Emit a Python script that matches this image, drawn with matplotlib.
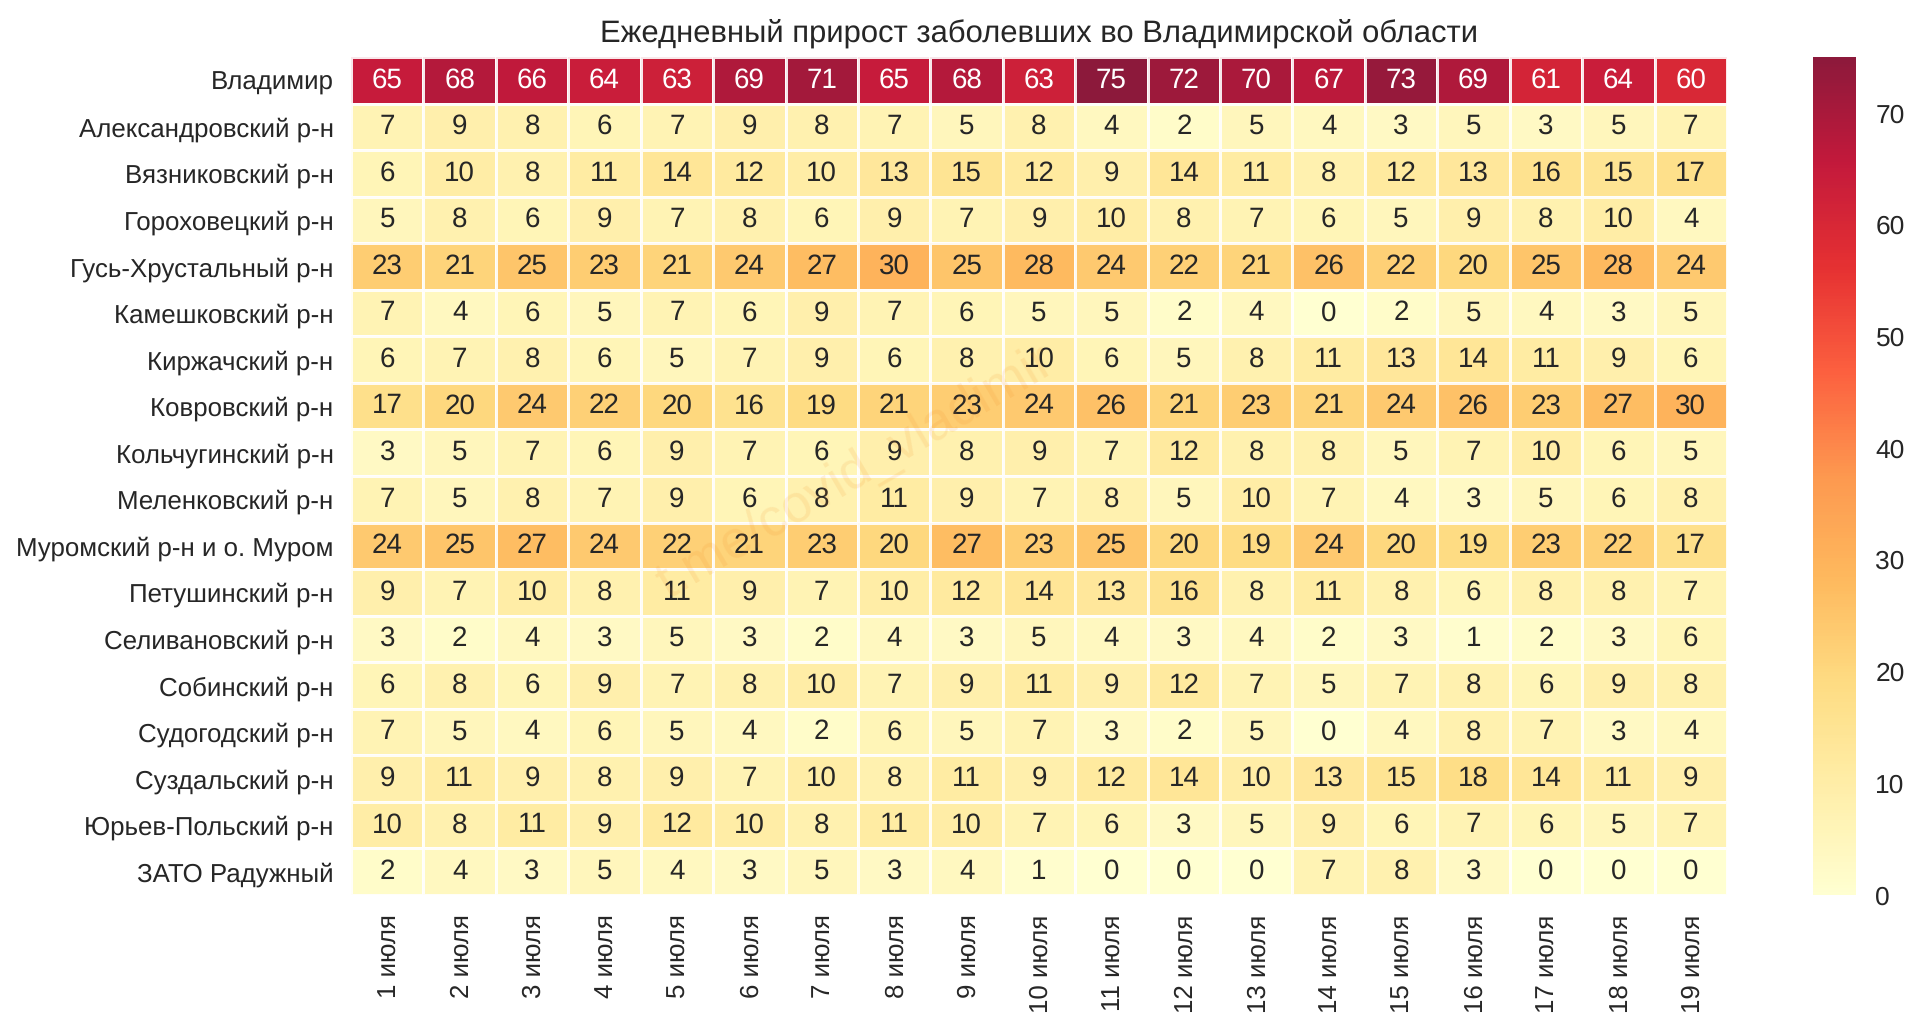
#!/usr/bin/env python3
# -*- coding: utf-8 -*-

import numpy as np
import matplotlib
matplotlib.use("Agg")
import matplotlib.pyplot as plt
from matplotlib.transforms import ScaledTranslation

plt.rcParams["font.family"] = ["Liberation Sans", "DejaVu Sans"]
plt.rcParams["text.hinting"] = "none"

TEXT_COLOR = "#262626"

days = ["1 июля", "2 июля", "3 июля", "4 июля", "5 июля", "6 июля", "7 июля",
        "8 июля", "9 июля", "10 июля", "11 июля", "12 июля", "13 июля",
        "14 июля", "15 июля", "16 июля", "17 июля", "18 июля", "19 июля"]

districts = ["Владимир", "Александровский р-н", "Вязниковский р-н",
             "Гороховецкий р-н", "Гусь-Хрустальный р-н", "Камешковский р-н",
             "Киржачский р-н", "Ковровский р-н", "Кольчугинский р-н",
             "Меленковский р-н", "Муромский р-н и о. Муром", "Петушинский р-н",
             "Селивановский р-н", "Собинский р-н", "Судогодский р-н",
             "Суздальский р-н", "Юрьев-Польский р-н", "ЗАТО Радужный"]

vladimir = [65, 68, 66, 64, 63, 69, 71, 65, 68, 63, 75, 72, 70, 67, 73, 69, 61, 64, 60]
aleksandrov = [7, 9, 8, 6, 7, 9, 8, 7, 5, 8, 4, 2, 5, 4, 3, 5, 3, 5, 7]
vyazniki = [6, 10, 8, 11, 14, 12, 10, 13, 15, 12, 9, 14, 11, 8, 12, 13, 16, 15, 17]
gorokhovets = [5, 8, 6, 9, 7, 8, 6, 9, 7, 9, 10, 8, 7, 6, 5, 9, 8, 10, 4]
gus = [23, 21, 25, 23, 21, 24, 27, 30, 25, 28, 24, 22, 21, 26, 22, 20, 25, 28, 24]
kameshkovo = [7, 4, 6, 5, 7, 6, 9, 7, 6, 5, 5, 2, 4, 0, 2, 5, 4, 3, 5]
kirzhach = [6, 7, 8, 6, 5, 7, 9, 6, 8, 10, 6, 5, 8, 11, 13, 14, 11, 9, 6]
kovrov = [17, 20, 24, 22, 20, 16, 19, 21, 23, 24, 26, 21, 23, 21, 24, 26, 23, 27, 30]
kolchugino = [3, 5, 7, 6, 9, 7, 6, 9, 8, 9, 7, 12, 8, 8, 5, 7, 10, 6, 5]
melenki = [7, 5, 8, 7, 9, 6, 8, 11, 9, 7, 8, 5, 10, 7, 4, 3, 5, 6, 8]
murom = [24, 25, 27, 24, 22, 21, 23, 20, 27, 23, 25, 20, 19, 24, 20, 19, 23, 22, 17]
petushki = [9, 7, 10, 8, 11, 9, 7, 10, 12, 14, 13, 16, 8, 11, 8, 6, 8, 8, 7]
selivanovo = [3, 2, 4, 3, 5, 3, 2, 4, 3, 5, 4, 3, 4, 2, 3, 1, 2, 3, 6]
sobinka = [6, 8, 6, 9, 7, 8, 10, 7, 9, 11, 9, 12, 7, 5, 7, 8, 6, 9, 8]
sudogda = [7, 5, 4, 6, 5, 4, 2, 6, 5, 7, 3, 2, 5, 0, 4, 8, 7, 3, 4]
suzdal = [9, 11, 9, 8, 9, 7, 10, 8, 11, 9, 12, 14, 10, 13, 15, 18, 14, 11, 9]
yuryev = [10, 8, 11, 9, 12, 10, 8, 11, 10, 7, 6, 3, 5, 9, 6, 7, 6, 5, 7]
raduzhny = [2, 4, 3, 5, 4, 3, 5, 3, 4, 1, 0, 0, 0, 7, 8, 3, 0, 0, 0]

values = np.array([vladimir, aleksandrov, vyazniki, gorokhovets, gus, kameshkovo,
                   kirzhach, kovrov, kolchugino, melenki, murom, petushki,
                   selivanovo, sobinka, sudogda, suzdal, yuryev, raduzhny])

W, H = 1920, 1030
fig = plt.figure(figsize=(W / 100, H / 100), dpi=100)


def px_axes(x0, y0, x1, y1):
    # axes box given in image pixels, y measured from the top
    return fig.add_axes([x0 / W, 1 - y1 / H, (x1 - x0) / W, (y1 - y0) / H])


ax = px_axes(351, 57, 1727, 895)
cax = px_axes(1813, 57, 1856, 895)

mesh = ax.pcolormesh(values, cmap="YlOrRd", vmin=0, vmax=75, alpha=0.9,
                     edgecolors="white", linewidth=2)
ax.invert_yaxis()

for i, row in enumerate(values):
    for j, v in enumerate(row):
        ax.text(j + 0.5, i + 0.5, str(v), ha="center", va="center", fontsize=20,
                color="white" if v > 50 else TEXT_COLOR)

ax.set_xticks(np.arange(len(days)) + 0.5)
ax.set_xticklabels(days, rotation=90)
ax.set_yticks(np.arange(len(districts)) + 0.5)
ax.set_yticklabels(districts)
ax.tick_params(length=0, labelsize=18.6, labelcolor=TEXT_COLOR, pad=12.5)
ax.tick_params(axis="x", pad=14)
for spine in ax.spines.values():
    spine.set_visible(False)

# rotated labels sit a little left of the column centres otherwise
shift = ScaledTranslation(2.4 / 100, 0, fig.dpi_scale_trans)
for label in ax.get_xticklabels():
    label.set_transform(label.get_transform() + shift)

ax.set_title("Ежедневный прирост заболевших во Владимирской области",
             fontsize=22.3, color=TEXT_COLOR, pad=11)

# watermark across the middle of the table
fig.text(855 / W, 1 - 473 / H, "t.me/covid_vladimir", fontsize=38, color="#f08a24",
         alpha=0.13, rotation=30.5, ha="center", va="center", zorder=5)

cbar = fig.colorbar(mesh, cax=cax)
cbar.set_ticks(np.arange(0, 71, 10))
cbar.ax.tick_params(length=0, labelsize=19, labelcolor=TEXT_COLOR, pad=14)
cbar.outline.set_visible(False)

fig.savefig("out.png", dpi=100)
